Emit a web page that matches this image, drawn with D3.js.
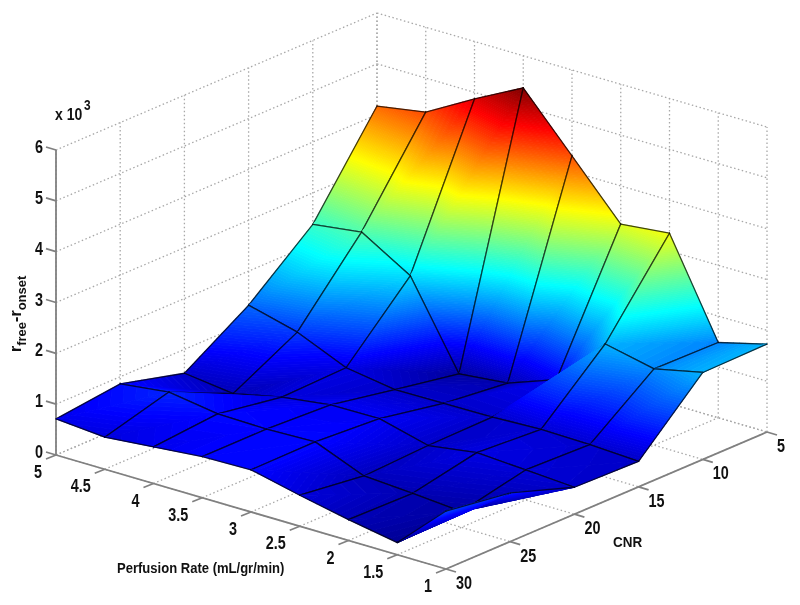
<!DOCTYPE html>
<html>
<head>
<meta charset="utf-8">
<script src="https://cdn.jsdelivr.net/npm/d3@7"></script>
<style>
  body { margin: 0; background: #fff; }
  svg { display: block; filter: blur(0.55px); }
  text { font-family: "Liberation Sans", Arial, sans-serif; font-weight: bold; fill: #111; }
</style>
</head>
<body>
<div id="wrapper"></div>
<script>
// values, z is in units of 10^-3
const perfusion = [5, 4.5, 4, 3.5, 3, 2.5, 2, 1.5, 1];
const cnr = [5, 10, 15, 20, 25, 30];
const zTicks = [0, 1, 2, 3, 4, 5, 6];
const perfLabels = ["5", "4.5", "4", "3.5", "3", "2.5", "2", "1.5", "1"];
const cnrLabels = ["5", "10", "15", "20", "25", "30"];

const zCnr5 = [4.17, 4.33, 4.87, 5.37, 4.31, 3.25, 3.35, 1.48, 1.73];
const zCnr10 = [2.38, 2.51, 1.93, 0.28, 0.38, 0.73, 1.71, 1.5, 1.71];
const zCnr15 = [1.33, 1.08, 0.66, 0.51, 0.52, 0.53, 0.57, 0.55, 0.5];
const zCnr20 = [0.53, 0.41, 0.62, 0.75, 0.76, 0.51, 0.65, 0.59, 0.53];
const zCnr25 = [0.86, 0.98, 0.83, 0.81, 0.84, 0.45, 0.39, 0.31, 0.96];
const zCnr30 = [0.71, 0.63, 0.72, 0.81, 0.83, 0.61, 0.41, 0.24, 1.14];
const zRows = [zCnr5, zCnr10, zCnr15, zCnr20, zCnr25, zCnr30];

const width = 800;
const height = 605;
const origin = { x: 56, y: 455 }; // perf=5, cnr=30, z=0 corner

// oblique view, each data axis gets a pair of pixel scales
const perfX = d3.scaleLinear().domain([5, 1]).range([0, 390]);
const perfY = d3.scaleLinear().domain([5, 1]).range([0, 114]);
const cnrX = d3.scaleLinear().domain([30, 5]).range([0, 321]);
const cnrY = d3.scaleLinear().domain([30, 5]).range([0, -137]);
const zY = d3.scaleLinear().domain([0, 6]).range([0, -305]);

const project = (p, c, z) => [
  origin.x + perfX(p) + cnrX(c),
  origin.y + perfY(p) + cnrY(c) + zY(z),
];

// matlab jet
const jet = d3
  .scaleLinear()
  .domain([0, 0.125, 0.375, 0.625, 0.875, 1])
  .range(["#000084", "#0000ff", "#00ffff", "#ffff00", "#ff0000", "#800000"])
  .clamp(true);
const colorScale = d3.scaleLinear().domain([0.15, 5.37]).range([0, 1]);

const svg = d3
  .select("#wrapper")
  .append("svg")
  .attr("width", width)
  .attr("height", height);

svg.append("rect").attr("width", width).attr("height", height).attr("fill", "#fff");

// Grid on the two walls and the floor
const gridGroup = svg
  .append("g")
  .attr("fill", "none")
  .attr("stroke", "#a8a8a8")
  .attr("stroke-width", 1.3)
  .attr("stroke-dasharray", "1.5 2.5");

const gridLine = (a, b) =>
  gridGroup
    .append("line")
    .attr("x1", a[0])
    .attr("y1", a[1])
    .attr("x2", b[0])
    .attr("y2", b[1]);

perfusion.forEach((p) => {
  gridLine(project(p, 30, 0), project(p, 5, 0));
  gridLine(project(p, 5, 0), project(p, 5, 6));
});
cnr.forEach((c) => {
  gridLine(project(5, c, 0), project(1, c, 0));
  gridLine(project(5, c, 0), project(5, c, 6));
});
zTicks.forEach((z) => {
  gridLine(project(5, 30, z), project(5, 5, z));
  gridLine(project(5, 5, z), project(1, 5, z));
});

// Axes
const axisGroup = svg
  .append("g")
  .attr("fill", "none")
  .attr("stroke", "#808080")
  .attr("stroke-width", 1.8);

const axisLine = (a, b) =>
  axisGroup
    .append("line")
    .attr("x1", a[0])
    .attr("y1", a[1])
    .attr("x2", b[0])
    .attr("y2", b[1]);

axisLine(project(5, 30, 0), project(5, 30, 6));
axisLine(project(5, 30, 0), project(1, 30, 0));
axisLine(project(1, 30, 0), project(1, 5, 0));

zTicks.forEach((z) => {
  const a = project(5, 30, z);
  axisLine(a, [a[0] - 10, a[1] - 3]);
});
perfusion.forEach((p) => {
  const a = project(p, 30, 0);
  axisLine(a, [a[0] - 10, a[1] + 4]);
});
cnr.forEach((c) => {
  const a = project(1, c, 0);
  axisLine(a, [a[0] + 10, a[1] + 3]);
});

// Surface: every cell is two flat triangles, back one first.
// z is linear on a triangle so it is cut in thin bands of equal z.
const surface = svg.append("g");
const bandStep = 0.03;

// keep the part of a polygon on one side of a z level (sign 1 above, -1 below)
const clipZ = (poly, level, sign) => {
  const out = [];
  poly.forEach((a, k) => {
    const b = poly[(k + 1) % poly.length];
    const da = sign * (a.z - level);
    const db = sign * (b.z - level);
    if (da >= 0) out.push(a);
    if (da * db < 0) {
      const t = da / (da - db);
      out.push({
        p: a.p + (b.p - a.p) * t,
        c: a.c + (b.c - a.c) * t,
        z: a.z + (b.z - a.z) * t,
      });
    }
  });
  return out;
};

const drawTriangle = (tri) => {
  const [zMin, zMax] = d3.extent(tri, (d) => d.z);
  for (let lo = Math.floor(zMin / bandStep) * bandStep; lo < zMax; lo += bandStep) {
    const band = clipZ(clipZ(tri, lo, 1), lo + bandStep, -1);
    if (band.length < 3) continue;
    const fill = jet(colorScale(lo + bandStep / 2));
    surface
      .append("polygon")
      .attr("points", band.map((d) => project(d.p, d.c, d.z)).join(" "))
      .attr("fill", fill)
      .attr("stroke", fill)
      .attr("stroke-width", 0.9)
      .attr("stroke-linejoin", "round");
  }
};

const drawEdge = (a, b) => {
  const pa = project(a.p, a.c, a.z);
  const pb = project(b.p, b.c, b.z);
  surface
    .append("line")
    .attr("x1", pa[0])
    .attr("y1", pa[1])
    .attr("x2", pb[0])
    .attr("y2", pb[1])
    .attr("stroke", "#000")
    .attr("stroke-opacity", 0.72)
    .attr("stroke-width", 1.3)
    .attr("stroke-linecap", "round");
};

const vertex = (i, j) => ({ p: perfusion[j], c: cnr[i], z: zRows[i][j] });

for (let i = 0; i < cnr.length - 1; i++) {
  for (let j = 0; j < perfusion.length - 1; j++) {
    const back = vertex(i, j);
    const right = vertex(i, j + 1);
    const left = vertex(i + 1, j);
    const front = vertex(i + 1, j + 1);

    drawTriangle([back, right, left]);
    drawEdge(back, right);
    drawEdge(back, left);

    drawTriangle([right, front, left]);
    drawEdge(right, front);
    drawEdge(left, front);
  }
}

// Text is squeezed sideways like in the original picture
const addText = (str, x, y, size, anchor, squeeze = 0.8) =>
  svg
    .append("text")
    .attr("transform", `translate(${x},${y}) scale(${squeeze},1)`)
    .attr("text-anchor", anchor)
    .style("font-size", size + "px")
    .text(str);

zTicks.forEach((z) => {
  const a = project(5, 30, z);
  addText(z, 43, a[1] + 3, 18, "end");
});
perfusion.forEach((p, k) => {
  const a = project(p, 30, 0);
  addText(perfLabels[k], a[0] - 14, a[1] + 23, 18, "end");
});
cnr.forEach((c, k) => {
  const a = project(1, c, 0);
  addText(cnrLabels[k], a[0] + 10, a[1] + 20, 18, "start");
});

addText("Perfusion Rate (mL/gr/min)", 117, 573, 14.5, "start", 0.9);
addText("CNR", 613, 547, 15.5, "start", 0.87);
addText("x 10", 55, 120, 16.5, "start", 0.85);
addText("3", 84, 110, 14, "start", 0.85);

// z axis label with subscripts, rotated
const zLabel = svg
  .append("text")
  .attr("transform", "translate(21,352) rotate(-90)")
  .style("font-size", "16px");
zLabel.append("tspan").text("r");
zLabel.append("tspan").attr("dy", 5).style("font-size", "13px").text("free");
zLabel.append("tspan").attr("dy", -5).text("-r");
zLabel.append("tspan").attr("dy", 5).style("font-size", "13px").text("onset");
</script>
</body>
</html>
